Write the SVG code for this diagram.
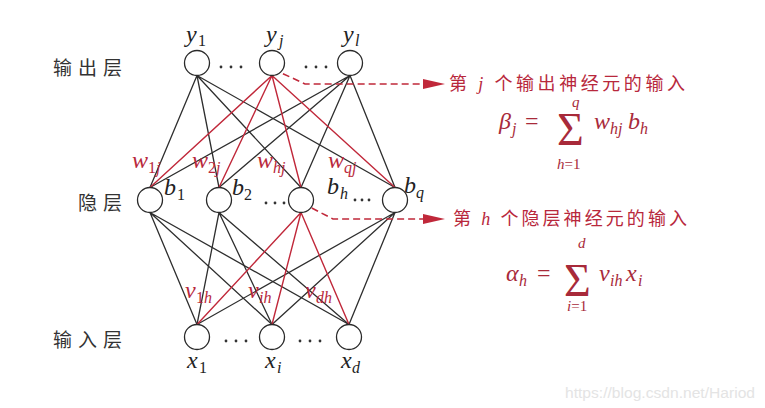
<svg xmlns="http://www.w3.org/2000/svg" width="765" height="408" viewBox="0 0 765 408">
<style>
.n{fill:#fff;stroke:#2a2a2a;stroke-width:1.3}
.k{stroke:#2e2e2e;stroke-width:1.3;fill:none}
.r{stroke:#c0283a;stroke-width:1.4;fill:none}
.dash{stroke:#c0283a;stroke-width:1.6;fill:none;stroke-dasharray:7 4}
.ah{fill:#c0283a}
.m{font-family:"Liberation Serif","DejaVu Serif",serif;font-style:italic;font-size:24px;fill:#222}
.s{font-family:"Liberation Serif","DejaVu Serif",serif;font-style:italic;font-size:16px;fill:#222}
.sn{font-family:"Liberation Serif","DejaVu Serif",serif;font-size:16px;fill:#222}
.l{font-size:15px}
.red{fill:#b8283c}
.f{fill:#a82a3a}
.up{font-style:normal}
.cn{font-family:"Noto Sans CJK SC","Noto Sans",sans-serif;font-size:19px;fill:#333}
.cr{font-family:"Noto Sans CJK SC","Noto Sans",sans-serif;font-size:18px;fill:#b8283c}
.d{fill:#333}
.sig{font-family:"Liberation Serif","DejaVu Serif",serif;font-size:46px;fill:#a82a3a}
</style>
<rect width="765" height="408" fill="#fff"/>

<g id="connectors">
  <path class="k" d="M197,75.5L150,187.5M197,75.5L219,187.5M197,75.5L301,187.5M197,75.5L395,187.5"/>
  <path class="k" d="M350,75.5L150,187.5M350,75.5L219,187.5M350,75.5L301,187.5M350,75.5L395,187.5"/>
  <path class="k" d="M150,212.5L197,324.5M150,212.5L272,324.5M150,212.5L349,324.5"/>
  <path class="k" d="M219,212.5L197,324.5M219,212.5L272,324.5M219,212.5L349,324.5"/>
  <path class="k" d="M395,212.5L197,324.5M395,212.5L272,324.5M395,212.5L349,324.5"/>
  <path class="r" d="M272,75.5L150,187.5M272,75.5L219,187.5M272,75.5L301,187.5M272,75.5L395,187.5"/>
  <path class="r" d="M301,212.5L197,324.5M301,212.5L272,324.5M301,212.5L349,324.5"/>
  <path class="dash" d="M273,69L305,84L425,84"/>
  <polygon class="ah" points="423,79 445,84 423,89"/>
  <path class="dash" d="M302,203L333,219L425,219"/>
  <polygon class="ah" points="423,214 445,219 423,224"/>
</g>

<g id="y1"><circle class="n" cx="197" cy="63" r="12.5"/><text class="m" x="186" y="42">y</text><text class="sn" x="198" y="46">1</text></g>
<g id="yj"><circle class="n" cx="272" cy="63" r="12.5"/><text class="m" x="266" y="42">y</text><text class="s" x="279" y="46">j</text></g>
<g id="yl"><circle class="n" cx="350" cy="63" r="12.5"/><text class="m" x="343" y="42">y</text><text class="s" x="355" y="46">l</text></g>

<g id="b1"><circle class="n" cx="150" cy="200" r="12.5"/><text class="m" x="164" y="195">b</text><text class="sn" x="177" y="200">1</text></g>
<g id="b2"><circle class="n" cx="219" cy="200" r="12.5"/><text class="m" x="232" y="195">b</text><text class="sn" x="244" y="200">2</text></g>
<g id="bh"><circle class="n" cx="301" cy="200" r="12.5"/><text class="m" x="327" y="194">b</text><text class="s" x="340" y="199">h</text></g>
<g id="bq"><circle class="n" cx="395" cy="200" r="12.5"/><text class="m" x="404" y="193">b</text><text class="s" x="416" y="198">q</text></g>

<g id="x1"><circle class="n" cx="197" cy="337" r="12.5"/><text class="m" x="187" y="368">x</text><text class="sn" x="199" y="373">1</text></g>
<g id="xi"><circle class="n" cx="272" cy="337" r="12.5"/><text class="m" x="265" y="368">x</text><text class="s" x="277" y="373">i</text></g>
<g id="xd"><circle class="n" cx="349" cy="337" r="12.5"/><text class="m" x="341" y="368">x</text><text class="s" x="352" y="373">d</text></g>

<g id="dots">
  <circle class="d" cx="221" cy="67" r="1.4"/><circle class="d" cx="231" cy="67" r="1.4"/><circle class="d" cx="241" cy="67" r="1.4"/>
  <circle class="d" cx="306" cy="67" r="1.4"/><circle class="d" cx="316" cy="67" r="1.4"/><circle class="d" cx="326" cy="67" r="1.4"/>
  <circle class="d" cx="266" cy="203" r="1.4"/><circle class="d" cx="275" cy="203" r="1.4"/><circle class="d" cx="284" cy="203" r="1.4"/>
  <circle class="d" cx="355" cy="200" r="1.4"/><circle class="d" cx="362" cy="200" r="1.4"/><circle class="d" cx="369" cy="200" r="1.4"/>
  <circle class="d" cx="226" cy="341" r="1.4"/><circle class="d" cx="236" cy="341" r="1.4"/><circle class="d" cx="246" cy="341" r="1.4"/>
  <circle class="d" cx="300" cy="341" r="1.4"/><circle class="d" cx="310" cy="341" r="1.4"/><circle class="d" cx="320" cy="341" r="1.4"/>
</g>

<g id="weights">
  <text class="m red" x="132" y="168">w</text><text class="s red" x="148" y="173"><tspan class="up">1</tspan>j</text>
  <text class="m red" x="192" y="168">w</text><text class="s red" x="208" y="173"><tspan class="up">2</tspan>j</text>
  <text class="m red" x="257" y="168">w</text><text class="s red" x="273" y="173">hj</text>
  <text class="m red" x="328" y="168">w</text><text class="s red" x="344" y="173">qj</text>
  <text class="m red" x="185" y="298">v</text><text class="s red" x="196" y="303"><tspan class="up">1</tspan>h</text>
  <text class="m red" x="248" y="298">v</text><text class="s red" x="259" y="303">ih</text>
  <text class="m red" x="305" y="298">v</text><text class="s red" x="316" y="303">dh</text>
</g>

<g id="layers">
  <text class="cn" x="53" y="75" textLength="69" lengthAdjust="spacing">输出层</text>
  <text class="cn" x="78" y="210" textLength="44" lengthAdjust="spacing">隐层</text>
  <text class="cn" x="53" y="347" textLength="69" lengthAdjust="spacing">输入层</text>
</g>

<g id="note1">
  <text class="cr" x="449" y="90" textLength="236" lengthAdjust="spacing">第 <tspan font-family="Liberation Serif,serif" font-style="italic">j</tspan> 个输出神经元的输入</text>
  <text class="m f" x="499" y="129">β</text><text class="s f" x="512" y="134">j</text>
  <text class="m f up" x="525" y="129">=</text>
  <text class="sig" x="557" y="145">Σ</text>
  <text class="s l f" x="572" y="107">q</text>
  <text class="s l f" x="557" y="169">h<tspan class="up">=1</tspan></text>
  <text class="m f" x="594" y="129">w</text><text class="s f" x="610" y="134">hj</text>
  <text class="m f" x="628" y="129">b</text><text class="s f" x="640" y="134">h</text>
</g>

<g id="note2">
  <text class="cr" x="453" y="225" textLength="234" lengthAdjust="spacing">第 <tspan font-family="Liberation Serif,serif" font-style="italic">h</tspan> 个隐层神经元的输入</text>
  <text class="m f" x="506" y="281">α</text><text class="s f" x="519" y="286">h</text>
  <text class="m f up" x="537" y="281">=</text>
  <text class="sig" x="564" y="296">Σ</text>
  <text class="s l f" x="578" y="248">d</text>
  <text class="s l f" x="567" y="311">i<tspan class="up">=1</tspan></text>
  <text class="m f" x="599" y="281">v</text><text class="s f" x="610" y="286">ih</text>
  <text class="m f" x="626" y="281">x</text><text class="s f" x="638" y="286">i</text>
</g>

<text x="565" y="398" font-family="Liberation Sans,Arial,sans-serif" font-size="14" fill="#e4e4e4" textLength="190" lengthAdjust="spacingAndGlyphs">https://blog.csdn.net/Hariod</text>
</svg>
